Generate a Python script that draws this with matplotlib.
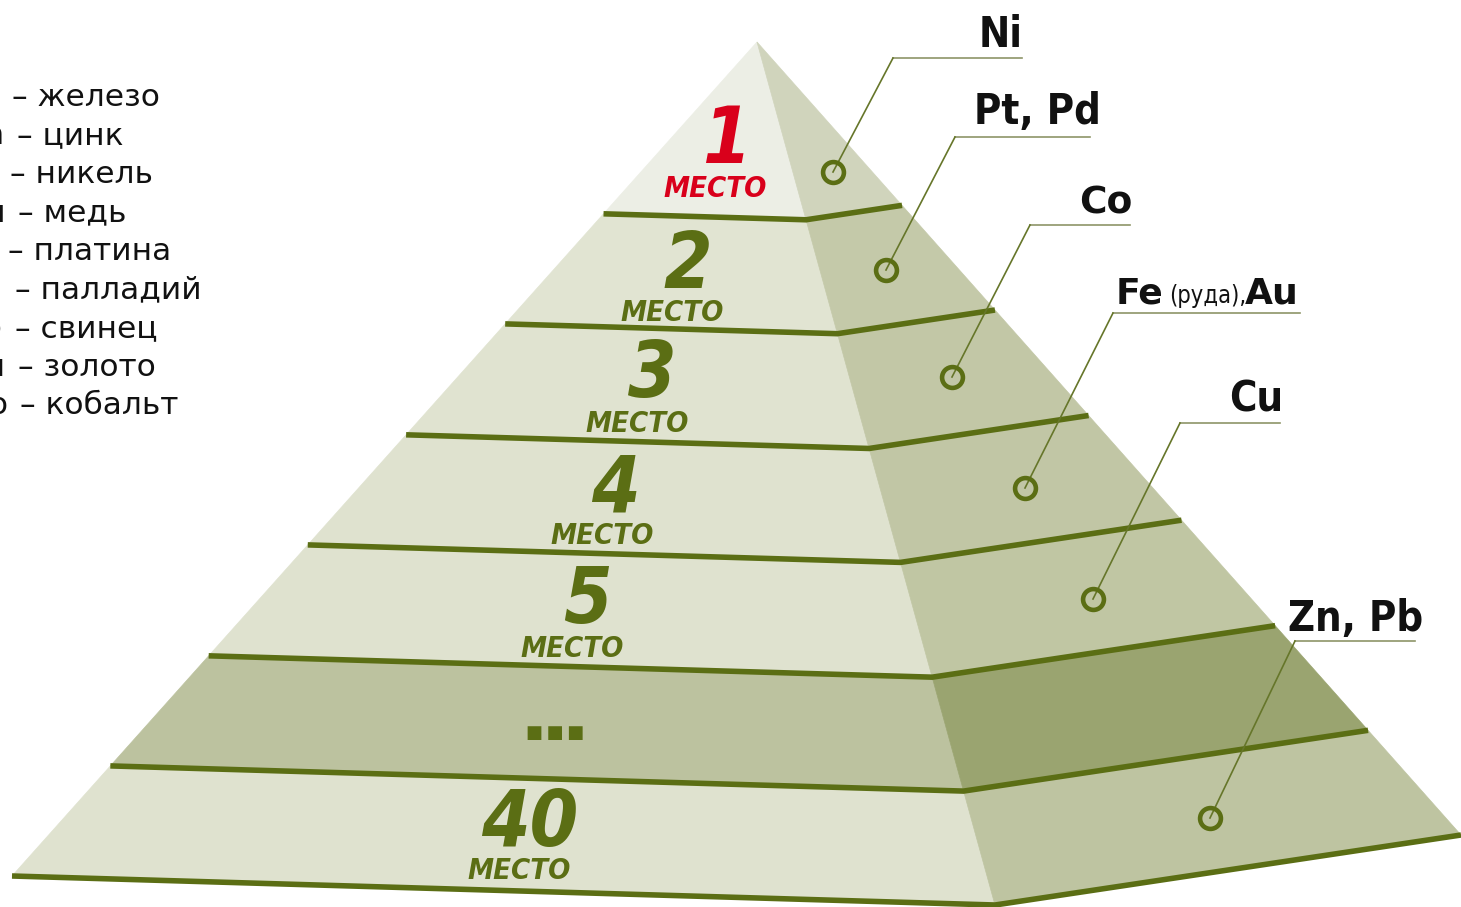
import matplotlib
matplotlib.use("Agg")
import matplotlib.pyplot as plt
from matplotlib import font_manager
from matplotlib.patches import Polygon
import numpy as np

# ---------------- data ----------------
levels = ["1", "2", "3", "4", "5", "...", "40"]
place_word = "МЕСТО"
metal_labels = ["Ni", "Pt, Pd", "Co", "Fe (руда), Au", "Cu", "Zn, Pb"]
metal_level = [0, 1, 2, 3, 4, 6]
legend_symbols = ["Fe", "Zn", "Ni", "Cu", "Pt", "Pd", "Pb", "Au", "Co"]
legend_names = ["железо", "цинк", "никель", "медь", "платина",
                "палладий", "свинец", "золото", "кобальт"]

# ---------------- layout ----------------
W, H = 1461, 907
apex = np.array([757.0, 42.0])
left_base = np.array([12.0, 876.0])
ridge_base = np.array([995.0, 905.0])
right_base = np.array([1461.0, 835.0])
t_bounds = [0.0, 0.206, 0.338, 0.471, 0.603, 0.736, 0.868, 1.0]

front_cols = ["#eceee5", "#e1e4d2", "#e0e3d0", "#dfe2cf", "#dfe2cf", "#bcc29f", "#dfe2cf"]
side_cols = ["#d0d4bc", "#c4c9a9", "#c2c7a6", "#c1c6a5", "#c0c6a3", "#9aa470", "#bec4a1"]
OLIVE = "#5b6e14"
RED = "#d9001b"

num_base = [(727, 163), (688, 288), (652, 397), (615, 511), (587, 623), (555, 733), (530, 846)]
word_base = [(715, 197), (672, 321), (637, 432), (602, 544), (572, 657), None, (519, 879)]

circle_pos = [(833, 172), (886, 270), (952, 377), (1025, 488), (1093, 599), (1210, 818)]
under_y = [58, 137, 225, 313, 423, 641]
under_x = [(893, 1022), (955, 1090), (1030, 1130), (1113, 1300), (1180, 1280), (1295, 1415)]
label_pos = [(1001, 47), (1037, 124), (1106, 214), (1207, 303), (1256, 412), (1356, 631)]

legend_y0, legend_dy = 106, 38.5
legend_dash_x = [12, 17, 10, 18, 8, 15, 15, 18, 20]

# ---------------- fonts ----------------
names = {f.name for f in font_manager.fontManager.ttflist}
if "Liberation Sans Narrow" in names:
    COND = dict(family="Liberation Sans Narrow")
else:
    COND = dict(family="DejaVu Sans", fontstretch="condensed")

fig = plt.figure(figsize=(W / 100, H / 100), dpi=100)
ax = fig.add_axes([0, 0, 1, 1])
ax.set_xlim(0, W)
ax.set_ylim(H, 0)
ax.axis("off")


def pt(base, t):
    return apex + (base - apex) * t


# faces
for k in range(len(levels)):
    t0, t1 = t_bounds[k], t_bounds[k + 1]
    front = [pt(left_base, t0), pt(ridge_base, t0), pt(ridge_base, t1), pt(left_base, t1)]
    side = [pt(ridge_base, t0), pt(right_base, t0), pt(right_base, t1), pt(ridge_base, t1)]
    ax.add_patch(Polygon(front, closed=True, facecolor=front_cols[k], edgecolor=front_cols[k], lw=0.5, zorder=1))
    ax.add_patch(Polygon(side, closed=True, facecolor=side_cols[k], edgecolor=side_cols[k], lw=0.5, zorder=1))

# separators
for t in t_bounds[1:]:
    p = np.array([pt(left_base, t), pt(ridge_base, t), pt(right_base, t)])
    ax.plot(p[:, 0], p[:, 1], color=OLIVE, lw=4.0, solid_capstyle="butt", solid_joinstyle="miter", zorder=3)

# level labels
for k, lab in enumerate(levels):
    col = RED if k == 0 else OLIVE
    x, y = num_base[k]
    if lab == "...":
        ax.text(x, y, "\u25a0\u2009\u25a0\u2009\u25a0", ha="center", va="center", color=OLIVE,
                fontsize=13, family="DejaVu Sans", zorder=4)
        continue
    ax.text(x, y, lab, ha="center", va="baseline", color=col, fontsize=56,
            fontweight="bold", fontstyle="italic", zorder=4, **COND)
    wx, wy = word_base[k]
    ax.text(wx, wy, place_word, ha="center", va="baseline", color=col, fontsize=21,
            fontweight="bold", fontstyle="italic", zorder=4, **COND)

# metal callouts
for i, lab in enumerate(metal_labels):
    cx, cy = circle_pos[i]
    x0, x1 = under_x[i]
    uy = under_y[i]
    ax.plot([x0, x1], [uy, uy], color="#8e9568", lw=1.2, zorder=4)
    ax.plot([cx, x0], [cy, uy], color="#66762a", lw=1.2, zorder=4)
    ax.plot([cx], [cy], marker="o", ms=15, mfc="none", mec=OLIVE, mew=3.3, zorder=5)
    lx, ly = label_pos[i]
    if lab.startswith("Fe"):
        ax.text(1116, ly, "Fe", ha="left", va="baseline", fontsize=26, fontweight="bold",
                color="#111111", family="DejaVu Sans", zorder=5)
        ax.text(1169, ly, "(руда),", ha="left", va="baseline", fontsize=17,
                color="#111111", zorder=5, **COND)
        ax.text(1299, ly, "Au", ha="right", va="baseline", fontsize=26, fontweight="bold",
                color="#111111", family="DejaVu Sans", zorder=5)
    elif lab == "Co":
        ax.text(lx, ly, lab, ha="center", va="baseline", fontsize=27, fontweight="bold",
                color="#111111", family="DejaVu Sans", zorder=5)
    else:
        ax.text(lx, ly, lab, ha="center", va="baseline", fontsize=30, fontweight="bold",
                color="#111111", zorder=5, **COND)

# legend (cut at the left edge)
for i, (sym, name) in enumerate(zip(legend_symbols, legend_names)):
    y = legend_y0 + i * legend_dy
    dx = legend_dash_x[i]
    ax.text(dx, y, "\u2013 " + name, ha="left", va="baseline", fontsize=22.5,
            color="#111111", family="DejaVu Sans", zorder=5)
    ax.text(dx - 12, y, sym, ha="right", va="baseline", fontsize=22.5,
            color="#111111", family="DejaVu Sans", zorder=5)

fig.savefig("out.png", dpi=100)
